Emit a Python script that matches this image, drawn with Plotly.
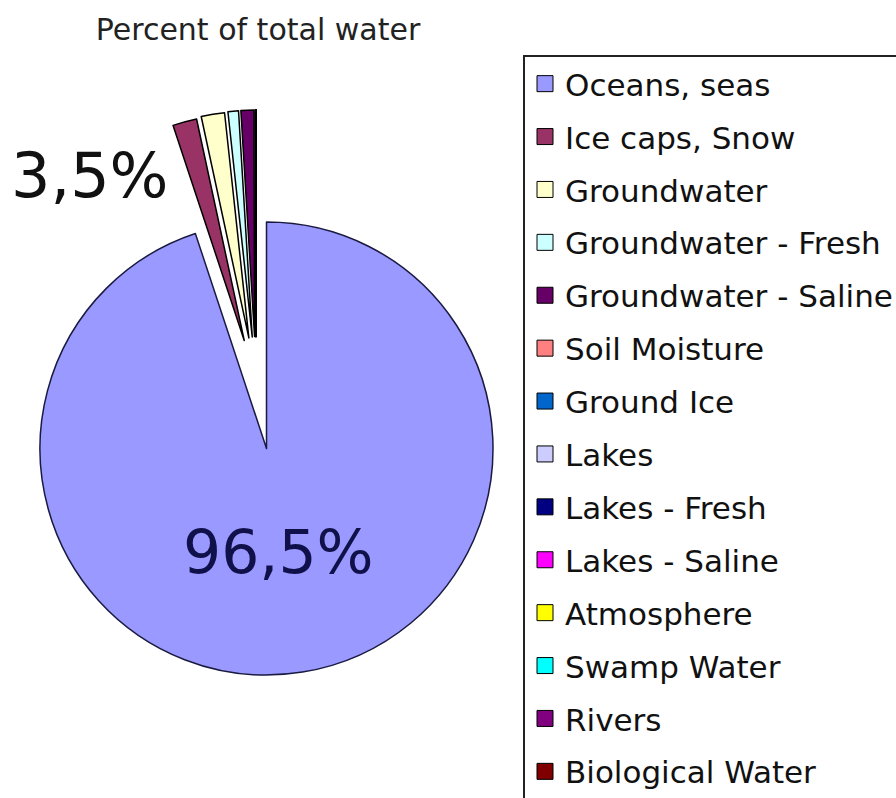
import math
import plotly.graph_objects as go

# ---------------- data ----------------
labels = [
    "Oceans, seas", "Ice caps, Snow", "Groundwater", "Groundwater - Fresh",
    "Groundwater - Saline", "Soil Moisture", "Ground Ice", "Lakes",
    "Lakes - Fresh", "Lakes - Saline", "Atmosphere", "Swamp Water",
    "Rivers", "Biological Water",
]
values = [96.5, 1.74, 1.69, 0.76, 0.93, 0.001, 0.022, 0.013,
          0.007, 0.006, 0.001, 0.0008, 0.0002, 0.0001]
colors = [
    "#9999FF", "#993366", "#FFFFCC", "#CCFFFF", "#660066", "#FF8080",
    "#0066CC", "#CCCCFF", "#000080", "#FF00FF", "#FFFF00", "#00FFFF",
    "#800080", "#800000",
]
title_text = "Percent of total water"

# ---------------- layout constants ----------------
W, H = 896, 798
CX, CY, R = 266.5, 448.5, 226.5   # pie centre / radius in px
PULL = 112                         # explode distance of the small slices (px)
FONT = "DejaVu Sans"

n = len(values)
total = sum(values)


def domain(cx, cy):
    return dict(x=[(cx - R) / W, (cx + R) / W],
                y=[(H - cy - R) / H, (H - cy + R) / H])


fig = go.Figure()

cum = 0.0
for i, v in enumerate(values):
    a0 = cum / total * 360.0
    cum += v
    a1 = cum / total * 360.0
    mid = math.radians((a0 + a1) / 2.0)
    if i == 0:
        dx = dy = 0.0
    else:
        dx = -10.5 + 0.4 * PULL * math.sin(mid)
        dy = -PULL * math.cos(mid)
    fill = ["rgba(0,0,0,0)"] * n
    fill[i] = colors[i]
    widths = [0] * n
    widths[i] = 1.5
    fig.add_trace(go.Pie(
        values=values, labels=labels, sort=False, direction="clockwise",
        rotation=0,
        marker=dict(colors=fill,
                    line=dict(color="#1a1a40" if i == 0 else "#000000",
                              width=widths)),
        textinfo="none", showlegend=False, hoverinfo="label+value",
        domain=domain(CX + dx, CY + dy),
    ))

# legend entries
for lab, col in zip(labels, colors):
    fig.add_trace(go.Scatter(
        x=[None], y=[None], mode="markers", name=lab, legendgroup=lab,
        marker=dict(symbol="square", size=16, color=col,
                    line=dict(color="#000000", width=1)),
        hoverinfo="skip", showlegend=True,
    ))

big = values[0]
rest = 100 - big
fmt = lambda x: f"{x:.1f}".replace(".", ",") + "%"

fig.update_layout(
    width=W, height=H, template="none",
    paper_bgcolor="white", plot_bgcolor="white",
    margin=dict(l=0, r=0, t=0, b=0, pad=0, autoexpand=False),
    xaxis=dict(visible=False), yaxis=dict(visible=False),
    title=dict(text=title_text, x=258 / W, y=1 - 29 / H,
               xanchor="center", yanchor="middle",
               font=dict(family=FONT, size=30, color="#222222")),
    legend=dict(x=523 / W, xanchor="left", y=1 - 55 / H, yanchor="top",
                font=dict(family=FONT, size=31, color="#111111"),
                bordercolor="#222222", borderwidth=2, bgcolor="white",
                tracegroupgap=9.6, itemsizing="trace"),
    annotations=[
        dict(text=fmt(rest), x=90 / W, y=1 - 175 / H, xref="paper",
             yref="paper", showarrow=False, xanchor="center",
             yanchor="middle",
             font=dict(family=FONT, size=62, color="#111111")),
        dict(text=fmt(big), x=278 / W, y=1 - 552 / H, xref="paper",
             yref="paper", showarrow=False, xanchor="center",
             yanchor="middle",
             font=dict(family=FONT, size=60, color="#10104a")),
    ],
)

fig.write_html("out.html")
